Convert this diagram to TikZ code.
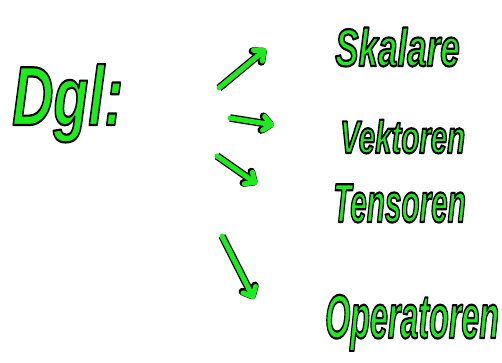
\documentclass[tikz,border=0pt]{standalone}
\usepackage{fontspec}
\setmainfont{Liberation Sans}
\usepackage{graphicx}
\usetikzlibrary{arrows.meta}
\definecolor{marker}{RGB}{30,235,30}
\tikzset{
  word/.style={anchor=base west, inner sep=0pt, text=marker, font=\bfseries\itshape},
  ink/.style={draw=marker, line width=5pt, line cap=round, line join=round,
    preaction={draw=black, line width=7.6pt}},
  tip/.style={-{Straight Barb[round, length=8pt, width=14pt]}},
}
% handwritten-looking word: size, horizontal squeeze, text
\newcommand{\hand}[3]{\fontsize{#1}{#1}\selectfont\scalebox{#2}[1]{%
  \special{pdf:literal direct 2 Tr 2.2 w 1 j 0 0 0 RG}#3%
  \special{pdf:literal direct 0 Tr}}}

\begin{document}
\begin{tikzpicture}[x=1pt, y=-1pt]
        \useasboundingbox (0, 0) rectangle (502, 362);
        \node[word] (dgl) at (12, 125) {\hand{84}{0.68}{Dgl:}};
        \node[word] (skalare) at (335, 66) {\hand{53}{0.66}{Skalare}};
        \node[word] (vektoren) at (340, 153) {\hand{46}{0.64}{Vektoren}};
        \node[word] (tensoren) at (333, 222) {\hand{55}{0.54}{Tensoren}};
        \node[word] (operatoren) at (325, 338) {\hand{62}{0.52}{Operatoren}};
        % arrows
        \coordinate (s1) at (219, 88);  \coordinate (e1) at (266, 49);
        \coordinate (s2) at (230, 118); \coordinate (e2) at (274, 125);
        \coordinate (s3) at (217, 156); \coordinate (e3) at (257, 184);
        \coordinate (s4) at (222, 236); \coordinate (e4) at (254, 299);
        \foreach \k in {1,...,4} {
            \draw[ink, tip] (s\k) -- (e\k);
        }
    \end{tikzpicture}
\end{document}
